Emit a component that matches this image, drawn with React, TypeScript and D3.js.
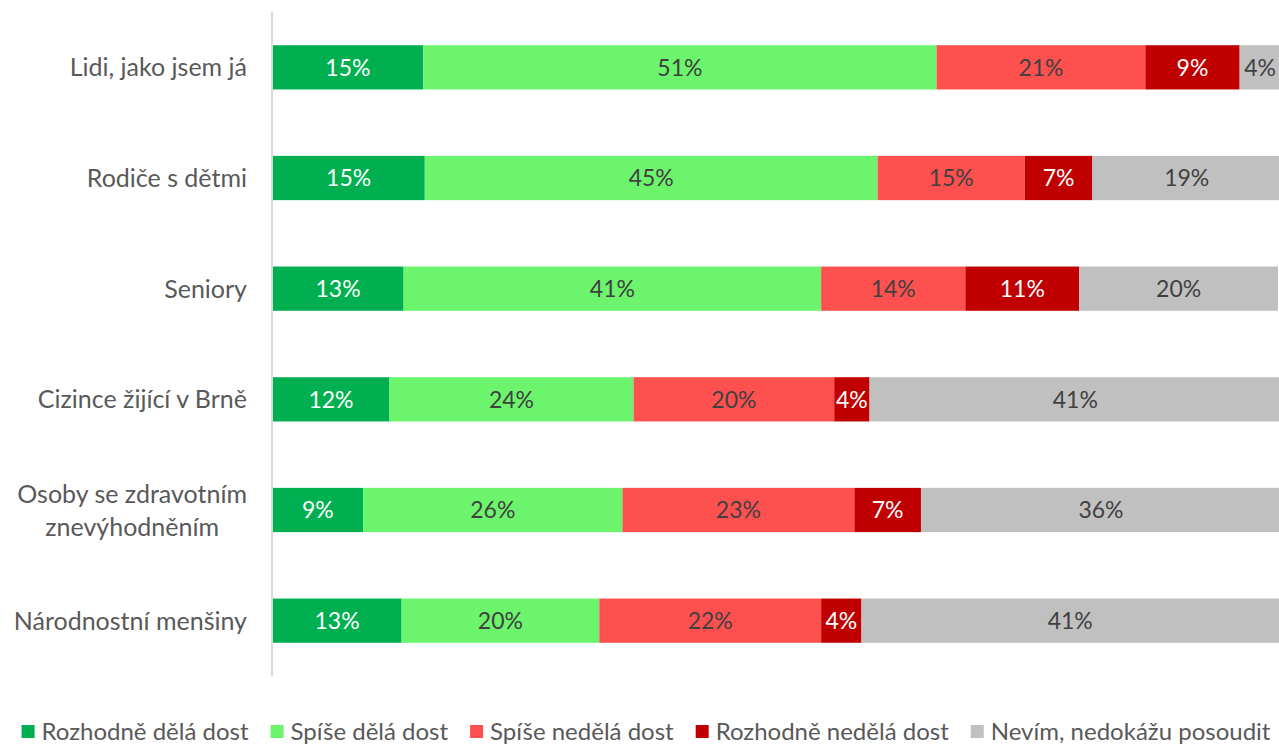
import { useRef, useEffect } from 'react';
import * as d3 from 'd3';

const CATEGORIES = [
  'Lidi, jako jsem já',
  'Rodiče s dětmi',
  'Seniory',
  'Cizince žijící v Brně',
  'Osoby se zdravotním|znevýhodněním',
  'Národnostní menšiny',
];

const SERIES = [
  'Rozhodně dělá dost',
  'Spíše dělá dost',
  'Spíše nedělá dost',
  'Rozhodně nedělá dost',
  'Nevím, nedokážu posoudit',
];

// one array per series, one value per category (percent)
const ROZHODNE_DELA = [14.95, 15.1, 13.0, 11.6, 9.0, 12.8];
const SPISE_DELA = [50.9, 44.9, 41.4, 24.2, 25.7, 19.6];
const SPISE_NEDELA = [20.7, 14.6, 14.3, 19.9, 23.0, 22.0];
const ROZHODNE_NEDELA = [9.35, 6.7, 11.3, 3.5, 6.6, 4.0];
const NEVIM = [4.07, 18.7, 19.7, 40.8, 35.7, 41.4];

const COLORS = ['#00b050', '#6cf56c', '#ff5050', '#c00000', '#c0c0c0'];
const LABEL_COLORS = ['#ffffff', '#404040', '#404040', '#ffffff', '#404040'];

const W = 1279;
const H = 744;
const FONT = 'Lato, "Open Sans", sans-serif';

export default function App() {
  const svgRef = useRef<SVGSVGElement>(null);

  useEffect(() => {
    const svg = d3.select(svgRef.current);
    svg.selectAll('*').remove();

    const rows = CATEGORIES.map((c, i) => ({
      cat: c,
      vals: [ROZHODNE_DELA[i], SPISE_DELA[i], SPISE_NEDELA[i], ROZHODNE_NEDELA[i], NEVIM[i]],
    }));

    const x = d3.scaleLinear().domain([0, 100]).range([272.5, 1281]);
    const y = d3
      .scaleBand()
      .domain(CATEGORIES)
      .range([12, 676])
      .paddingInner(0.6)
      .paddingOuter(0.3);

    const stack = d3
      .stack<any>()
      .keys(d3.range(SERIES.length).map(String))
      .value((d, k) => d.vals[+k]);
    const layers = stack(rows);

    const g = svg.append('g');

    layers.forEach((layer, si) => {
      const seg = g
        .selectAll(`.s${si}`)
        .data(layer)
        .join('g')
        .attr('class', `s${si}`);
      seg
        .append('rect')
        .attr('x', (d) => x(d[0]))
        .attr('y', (d) => y(d.data.cat)!)
        .attr('width', (d) => x(d[1]) - x(d[0]))
        .attr('height', y.bandwidth())
        .attr('fill', COLORS[si]);
      seg
        .append('text')
        .attr('x', (d) => (x(d[0]) + x(d[1])) / 2)
        .attr('y', (d) => y(d.data.cat)! + y.bandwidth() / 2)
        .attr('dy', '0.36em')
        .attr('text-anchor', 'middle')
        .attr('font-family', FONT)
        .attr('font-size', 23)
        .attr('fill', LABEL_COLORS[si])
        .text((d) => `${Math.round(d[1] - d[0])}%`);
    });

    // vertical category axis line
    g.append('line')
      .attr('x1', 272)
      .attr('x2', 272)
      .attr('y1', 12)
      .attr('y2', 676)
      .attr('stroke', '#d9d9d9')
      .attr('stroke-width', 2);

    // category labels (wrapped lines centred on each other, block right-aligned)
    CATEGORIES.forEach((c) => {
      const lines = c.split('|');
      const cy = y(c)! + y.bandwidth() / 2;
      const lh = 33;
      const t = g
        .append('text')
        .attr('font-family', FONT)
        .attr('font-size', 25)
        .attr('fill', '#595959');
      const spans = lines.map((ln, li) =>
        t
          .append('tspan')
          .attr('y', cy + (li - (lines.length - 1) / 2) * lh)
          .attr('dy', '0.36em')
          .text(ln)
      );
      const widths = spans.map((s) => (s.node() as SVGTSpanElement).getComputedTextLength());
      const maxW = d3.max(widths)!;
      spans.forEach((s) => s.attr('x', 247 - maxW / 2).attr('text-anchor', 'middle'));
    });

    // legend
    const leg = svg.append('g');
    const items = SERIES.map((name, i) => {
      const it = leg.append('g');
      it.append('rect').attr('width', 13).attr('height', 13).attr('y', 725).attr('fill', COLORS[i]);
      const tx = it
        .append('text')
        .attr('x', 20)
        .attr('y', 731.5)
        .attr('dy', '0.36em')
        .attr('font-family', FONT)
        .attr('font-size', 24)
        .attr('fill', '#595959')
        .text(name);
      return { it, w: 20 + (tx.node() as SVGTextElement).getComputedTextLength() };
    });
    const gap = 22;
    const total = d3.sum(items, (d) => d.w) + gap * (items.length - 1);
    let cx = 646 - total / 2;
    items.forEach((d) => {
      d.it.attr('transform', `translate(${cx},0)`);
      cx += d.w + gap;
    });
  }, []);

  return (
    <svg
      ref={svgRef}
      width={W}
      height={H}
      style={{ position: 'absolute', left: 0, top: 0, background: '#fff' }}
    />
  );
}
